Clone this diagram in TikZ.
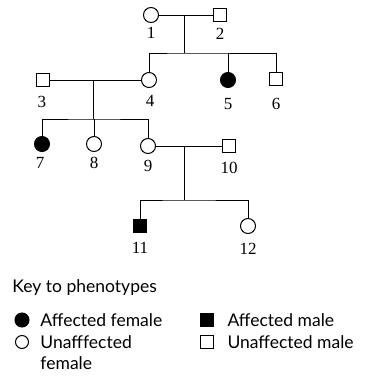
\documentclass[tikz,border=0pt]{standalone}
\usepackage{fontspec}
\setmainfont{Liberation Serif}
\newfontfamily\keyfont{Lato}
\tikzset{
  female/.style={circle,draw,line width=1pt,minimum size=15pt,inner sep=0pt},
  male/.style={rectangle,draw,line width=1pt,minimum size=13pt,inner sep=0pt},
  affected/.style={fill=black},
  num/.style={font=\fontsize{17}{17}\selectfont},
  keytext/.style={font=\keyfont\fontsize{17.5}{19}\selectfont,anchor=west,inner sep=0pt}
}
\begin{document}
\begin{tikzpicture}[x=1pt,y=-1pt,line width=1pt]
    \useasboundingbox (0,0) rectangle (369,381);
    % generation I
    \node[female] (p1) at (151,15) {};
    \node[male] (p2) at (220,15) {};
    \node[num] (l1) at (151,33) {1};
    \node[num] (l2) at (220,34) {2};

    % generation II
    \node[male] (p3) at (43,80) {};
    \node[female] (p4) at (149,80) {};
    \node[female,affected] (p5) at (228,80) {};
    \node[male] (p6) at (276,79) {};
    \node[num] (l3) at (42,102) {3};
    \node[num] (l4) at (150,101) {4};
    \node[num] (l5) at (228,104) {5};
    \node[num] (l6) at (276,104) {6};

    % generation III
    \node[female,affected] (p7) at (42,144) {};
    \node[female] (p8) at (94,144) {};
    \node[female] (p9) at (148,146) {};
    \node[male] (p10) at (229,146) {};
    \node[num] (l7) at (40,163) {7};
    \node[num] (l8) at (94,163) {8};
    \node[num] (l9) at (148,166) {9};
    \node[num] (l10) at (229,168) {10};

    % generation IV
    \node[male,affected] (p11) at (140,226) {};
    \node[female] (p12) at (248,226) {};
    \node[num] (l11) at (140,248) {11};
    \node[num] (l12) at (248,249) {12};

    \coordinate (m12) at (184,15);
    \coordinate (s12) at (184,53);
    \draw (p1) -- (p2);
    \draw (m12) -- (s12);
    \draw (p4.north) |- (s12) -| (p6.north);
    \draw (p5.north |- s12) -- (p5.north);

    \coordinate (m34) at (93,80);
    \coordinate (s34) at (93,119);
    \draw (p3) -- (p4);
    \draw (m34) -- (s34);
    \draw (p7.north) |- (s34) -| (p9.north);
    \draw (p8.north |- s34) -- (p8.north);

    \coordinate (m910) at (184,146);
    \coordinate (s910) at (184,200);
    \draw (p9) -- (p10);
    \draw (m910) -- (s910);
    \draw (p11.north) |- (s910) -| (p12.north);

    % key
    \node[keytext] (key) at (12,288) {Key to phenotypes};
    \node[female,affected,minimum size=14pt] (kaf) at (22,320) {};
    \node[female,minimum size=13pt] (kuf) at (22,342) {};
    \node[male,affected] (kam) at (207,320) {};
    \node[male] (kum) at (207,342) {};
    \node[keytext] (taf) at (40,320) {Affected female};
    \node[keytext] (tuf) at (40,342) {Unafffected};
    \node[keytext] (tuf2) at (40,363) {female};
    \node[keytext] (tam) at (227,320) {Affected male};
    \node[keytext] (tum) at (227,342) {Unaffected male};
\end{tikzpicture}
\end{document}
